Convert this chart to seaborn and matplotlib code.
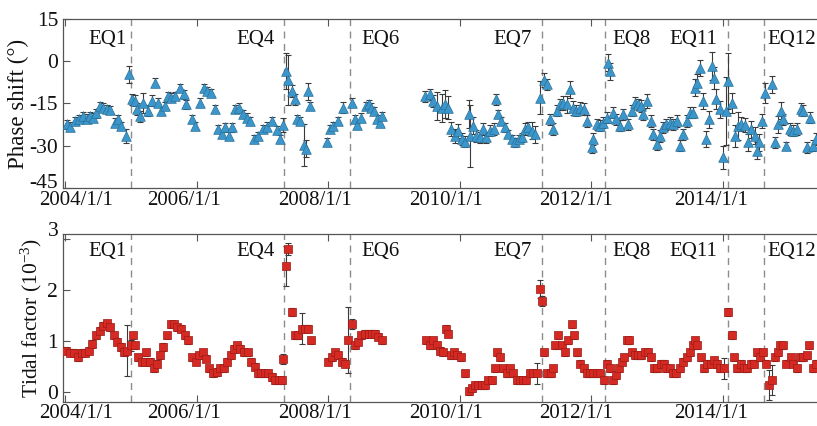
import numpy as np
import pandas as pd
import matplotlib
matplotlib.use('Agg')
import matplotlib.pyplot as plt
import matplotlib.transforms as mtransforms
import seaborn as sns

# phase shift (deg), decimal years
phase_year = [
    2004.02, 2004.07, 2004.14, 2004.20, 2004.27, 2004.32, 2004.37, 2004.42, 2004.47, 2004.52,
    2004.57, 2004.63, 2004.68, 2004.75, 2004.80, 2004.85, 2004.92, 2004.97, 2005.01, 2005.06,
    2005.08, 2005.13, 2005.18, 2005.26, 2005.31, 2005.36, 2005.40, 2005.46, 2005.51, 2005.56,
    2005.61, 2005.67, 2005.74, 2005.80, 2005.84, 2005.92, 2005.97, 2006.05, 2006.10, 2006.15,
    2006.21, 2006.27, 2006.32, 2006.38, 2006.43, 2006.48, 2006.53, 2006.58, 2006.64, 2006.70,
    2006.76, 2006.81, 2006.86, 2006.93, 2007.01, 2007.06, 2007.14, 2007.21, 2007.26, 2007.31,
    2007.35, 2007.39, 2007.44, 2007.49, 2007.52, 2007.57, 2007.62, 2007.66, 2007.69, 2007.72,
    2007.98, 2008.02, 2008.07, 2008.15, 2008.22, 2008.35, 2008.40, 2008.44, 2008.50, 2008.57,
    2008.61, 2008.64, 2008.69, 2008.74, 2008.78, 2008.81,
    2009.47, 2009.54, 2009.59, 2009.65, 2009.72, 2009.77, 2009.82, 2009.87, 2009.92, 2009.97,
    2010.03, 2010.08, 2010.13, 2010.15, 2010.20, 2010.25, 2010.30, 2010.35, 2010.40, 2010.46,
    2010.51, 2010.55, 2010.58, 2010.63, 2010.68, 2010.73, 2010.79, 2010.84, 2010.89, 2010.94,
    2010.99, 2011.04, 2011.09, 2011.14, 2011.21, 2011.28, 2011.32, 2011.37, 2011.42, 2011.47,
    2011.52, 2011.57, 2011.62, 2011.67, 2011.72, 2011.77, 2011.83, 2011.88, 2011.93, 2012.01,
    2012.03, 2012.08, 2012.13, 2012.18, 2012.23, 2012.25, 2012.28, 2012.33, 2012.38, 2012.43,
    2012.48, 2012.56, 2012.61, 2012.66, 2012.71, 2012.76, 2012.79, 2012.84, 2012.90, 2012.94,
    2012.99, 2013.04, 2013.09, 2013.14, 2013.19, 2013.24, 2013.30, 2013.34, 2013.39, 2013.45,
    2013.50, 2013.55, 2013.57, 2013.61, 2013.65, 2013.70, 2013.74, 2013.78, 2013.83, 2013.86,
    2013.90, 2013.95, 2014.00, 2014.04, 2014.08, 2014.13, 2014.18, 2014.23, 2014.28, 2014.33,
    2014.38, 2014.43, 2014.48, 2014.51, 2014.55, 2014.60, 2014.64, 2014.75, 2014.79, 2014.84,
    2014.88, 2014.92, 2014.96, 2015.02, 2015.07, 2015.13, 2015.18, 2015.21, 2015.27, 2015.32,
    2015.37, 2015.42]
phase_value = [
    -22.4, -23.2, -21.2, -20.6, -19.6, -20.4, -19.4, -20.0, -18.5, -15.9,
    -16.5, -17.0, -17.3, -21.8, -20.6, -23.0, -26.5, -4.7, -13.5, -14.0,
    -17.0, -19.6, -14.7, -17.6, -14.0, -7.6, -14.7, -17.6, -15.9, -12.4,
    -12.9, -12.4, -9.4, -11.8, -15.3, -20.6, -22.9, -14.7, -9.4, -10.6,
    -11.2, -17.0, -24.0, -25.9, -23.5, -26.5, -23.5, -17.0, -16.5, -18.8,
    -20.0, -21.2, -27.6, -26.5, -24.1, -23.2, -21.2, -24.4, -27.6, -22.7,
    -3.5, -6.7, -10.6, -13.5, -20.6, -21.2, -29.8, -31.0, -10.6, -15.9,
    -28.6, -24.1, -22.9, -21.2, -16.5, -14.7, -20.6, -22.7, -20.0, -15.9,
    -15.3, -16.5, -17.6, -20.6, -21.8, -19.4,
    -12.4, -11.8, -14.1, -15.9, -16.5, -15.3, -16.5, -24.1, -26.5, -24.7,
    -27.6, -28.6, -18.8, -26.5, -22.9, -26.5, -27.0, -24.1, -27.0, -24.7,
    -24.1, -13.5, -18.8, -21.2, -23.5, -25.9, -27.6, -28.8, -27.6, -27.0,
    -24.1, -23.5, -24.7, -25.9, -12.9, -6.5, -8.2, -20.6, -24.1, -17.6,
    -15.3, -14.7, -15.3, -10.0, -16.5, -17.6, -16.5, -17.0, -21.2, -30.6,
    -27.6, -22.4, -22.9, -21.8, -20.0, -0.5, -3.6, -18.2, -20.6, -22.9,
    -18.8, -22.4, -17.6, -14.7, -15.3, -15.9, -18.8, -14.1, -21.2, -25.9,
    -29.4, -26.5, -23.5, -22.4, -21.8, -22.4, -21.2, -30.0, -25.9, -21.2,
    -18.2, -18.2, -9.4, -7.6, -2.4, -14.1, -27.6, -20.6, -1.8, -5.9,
    -13.5, -17.0, -34.1, -17.6, -7.1, -14.7, -26.5, -22.9, -22.4, -22.7,
    -28.8, -24.1, -26.5, -31.8, -28.8, -21.2, -11.2, -8.2, -28.8, -22.4,
    -17.6, -20.6, -30.0, -24.1, -24.7, -24.1, -17.0, -17.6, -30.6, -20.0,
    -30.0, -27.6]
phase_err = [
    1.5, 1.5, 1.5, 1.5, 1.5, 1.5, 1.5, 1.5, 1.5, 1.5,
    1.5, 1.5, 1.5, 1.5, 1.5, 1.5, 2.5, 3.0, 2.0, 2.0,
    2.0, 2.0, 3.5, 2.0, 2.0, 1.5, 1.5, 1.5, 1.5, 1.5,
    1.5, 1.5, 1.5, 1.5, 1.5, 1.5, 1.5, 1.5, 1.5, 1.5,
    1.5, 1.5, 1.5, 1.5, 1.5, 1.5, 1.5, 1.5, 1.5, 1.5,
    1.5, 1.5, 1.5, 1.5, 1.5, 1.5, 1.5, 1.5, 1.5, 2.5,
    6.5, 9.0, 2.0, 2.0, 1.5, 1.5, 7.5, 3.0, 3.0, 1.5,
    1.5, 1.5, 1.5, 1.5, 2.0, 1.5, 1.5, 1.5, 1.5, 1.5,
    1.5, 1.5, 1.5, 1.5, 1.5, 1.5,
    2.0, 2.0, 2.0, 5.0, 5.0, 5.0, 4.0, 2.5, 2.5, 2.5,
    2.0, 2.0, 5.0, 11.0, 3.0, 2.0, 2.0, 2.0, 2.0, 2.0,
    2.0, 2.0, 1.5, 1.5, 1.5, 1.5, 1.5, 1.5, 1.5, 1.5,
    2.0, 2.0, 3.0, 3.0, 6.0, 2.5, 2.0, 2.0, 2.0, 2.0,
    2.0, 2.5, 3.0, 3.0, 2.5, 2.0, 2.0, 2.0, 2.0, 2.0,
    2.0, 2.0, 2.0, 2.0, 2.0, 3.0, 3.0, 2.0, 2.0, 2.0,
    2.0, 2.0, 2.0, 2.0, 2.0, 2.0, 2.0, 2.5, 2.0, 2.0,
    2.0, 2.0, 2.0, 2.0, 2.0, 2.0, 2.0, 2.0, 2.0, 2.0,
    2.0, 2.0, 3.0, 3.0, 3.0, 3.0, 3.0, 3.0, 5.0, 4.0,
    3.5, 3.0, 4.0, 12.0, 10.0, 3.5, 4.0, 5.0, 2.5, 2.5,
    3.0, 3.0, 3.0, 3.0, 3.0, 2.5, 3.5, 3.0, 2.0, 3.0,
    3.0, 2.0, 1.5, 2.0, 2.0, 2.0, 2.0, 2.0, 2.0, 2.0,
    2.0, 2.0]

# tidal factor (1e-3)
tidal_year = [
    2004.01, 2004.07, 2004.13, 2004.19, 2004.25, 2004.30, 2004.35, 2004.41, 2004.47, 2004.52,
    2004.57, 2004.63, 2004.68, 2004.74, 2004.79, 2004.84, 2004.89, 2004.94, 2004.99, 2005.02,
    2005.06, 2005.11, 2005.16, 2005.21, 2005.23, 2005.29, 2005.34, 2005.39, 2005.44, 2005.49,
    2005.54, 2005.60, 2005.65, 2005.70, 2005.75, 2005.82, 2005.87, 2005.93, 2005.98, 2006.03,
    2006.09, 2006.14, 2006.19, 2006.25, 2006.30, 2006.35, 2006.41, 2006.46, 2006.51, 2006.56,
    2006.61, 2006.66, 2006.71, 2006.77, 2006.82, 2006.88, 2006.93, 2006.98, 2007.03, 2007.08,
    2007.14, 2007.19, 2007.24, 2007.29, 2007.31, 2007.35, 2007.39, 2007.45, 2007.49, 2007.54,
    2007.59, 2007.64, 2007.69, 2007.73, 2008.00, 2008.05, 2008.10, 2008.15, 2008.20, 2008.25,
    2008.29, 2008.35, 2008.40, 2008.45, 2008.50, 2008.56, 2008.61, 2008.66, 2008.71, 2008.76,
    2008.81, 2009.49, 2009.54, 2009.59, 2009.65, 2009.70, 2009.74, 2009.78, 2009.82, 2009.86,
    2009.91, 2009.96, 2010.01, 2010.07, 2010.13, 2010.18, 2010.23, 2010.28, 2010.33, 2010.38,
    2010.43, 2010.48, 2010.53, 2010.57, 2010.61, 2010.66, 2010.71, 2010.76, 2010.81, 2010.86,
    2010.91, 2010.96, 2011.01, 2011.06, 2011.11, 2011.17, 2011.21, 2011.24, 2011.28, 2011.33,
    2011.38, 2011.42, 2011.44, 2011.49, 2011.55, 2011.60, 2011.65, 2011.70, 2011.73, 2011.78,
    2011.83, 2011.88, 2011.93, 2011.98, 2012.03, 2012.08, 2012.13, 2012.19, 2012.24, 2012.28,
    2012.33, 2012.38, 2012.42, 2012.46, 2012.49, 2012.54, 2012.57, 2012.62, 2012.66, 2012.71,
    2012.76, 2012.81, 2012.86, 2012.90, 2012.95, 2013.00, 2013.05, 2013.10, 2013.14, 2013.19,
    2013.24, 2013.29, 2013.34, 2013.39, 2013.45, 2013.50, 2013.54, 2013.57, 2013.61, 2013.66,
    2013.71, 2013.76, 2013.81, 2013.86, 2013.91, 2013.96, 2014.01, 2014.08, 2014.13, 2014.17,
    2014.22, 2014.27, 2014.32, 2014.37, 2014.42, 2014.47, 2014.52, 2014.57, 2014.61, 2014.66,
    2014.70, 2014.75, 2014.79, 2014.83, 2014.87, 2014.91, 2014.96, 2015.03, 2015.07, 2015.12,
    2015.17, 2015.22, 2015.27, 2015.31, 2015.37, 2015.41]
tidal_value = [
    0.81, 0.77, 0.77, 0.68, 0.77, 0.77, 0.81, 0.94, 1.11, 1.20,
    1.30, 1.35, 1.27, 1.11, 0.98, 0.88, 0.78, 0.81, 0.91, 1.11,
    0.91, 0.68, 0.59, 0.59, 0.78, 0.59, 0.46, 0.55, 0.72, 0.88,
    1.11, 1.33, 1.33, 1.27, 1.24, 1.11, 1.01, 0.68, 0.59, 0.72,
    0.78, 0.65, 0.46, 0.36, 0.39, 0.46, 0.46, 0.59, 0.72, 0.85,
    0.91, 0.85, 0.78, 0.78, 0.59, 0.49, 0.36, 0.36, 0.36, 0.36,
    0.29, 0.23, 0.23, 0.23, 0.65, 2.47, 2.80, 1.56, 1.11, 1.11,
    1.24, 1.24, 1.24, 1.01, 0.59, 0.68, 0.78, 0.72, 0.59, 0.55,
    1.01, 1.33, 0.91, 0.98, 1.11, 1.14, 1.14, 1.14, 1.14, 1.08,
    1.01, 1.01, 0.91, 1.01, 0.91, 0.81, 0.78, 1.24, 1.14, 0.72,
    0.78, 0.72, 0.68, 0.36, 0.01, 0.07, 0.13, 0.13, 0.13, 0.13,
    0.23, 0.23, 0.46, 0.78, 0.68, 0.46, 0.36, 0.46, 0.36, 0.23,
    0.23, 0.23, 0.23, 0.36, 0.36, 0.36, 2.02, 1.79, 0.78, 0.36,
    0.36, 0.46, 0.91, 1.11, 0.91, 0.78, 1.01, 1.33, 1.11, 0.78,
    0.55, 0.46, 0.36, 0.36, 0.36, 0.36, 0.36, 0.23, 0.55, 0.46,
    0.23, 0.33, 0.46, 0.59, 0.68, 1.01, 1.01, 0.78, 0.72, 0.72,
    0.72, 0.78, 0.78, 0.68, 0.46, 0.46, 0.55, 0.55, 0.46, 0.46,
    0.36, 0.36, 0.46, 0.59, 0.68, 0.78, 0.91, 1.01, 0.91, 0.68,
    0.46, 0.55, 0.55, 0.62, 0.55, 0.46, 0.46, 1.56, 1.11, 0.68,
    0.46, 0.55, 0.46, 0.46, 0.55, 0.55, 0.78, 0.68, 0.78, 0.55,
    0.13, 0.23, 0.68, 0.78, 0.91, 0.91, 0.55, 0.68, 0.55, 0.46,
    0.68, 0.68, 0.72, 0.91, 0.46, 0.55]
tidal_err = [
    0.07, 0.07, 0.07, 0.07, 0.07, 0.07, 0.07, 0.07, 0.07, 0.07,
    0.07, 0.07, 0.07, 0.07, 0.07, 0.07, 0.07, 0.50, 0.10, 0.07,
    0.07, 0.07, 0.07, 0.07, 0.07, 0.07, 0.07, 0.07, 0.07, 0.07,
    0.07, 0.07, 0.07, 0.07, 0.07, 0.07, 0.07, 0.07, 0.07, 0.07,
    0.07, 0.07, 0.07, 0.07, 0.07, 0.07, 0.07, 0.07, 0.07, 0.07,
    0.07, 0.07, 0.07, 0.07, 0.07, 0.07, 0.07, 0.07, 0.07, 0.07,
    0.07, 0.07, 0.07, 0.07, 0.10, 0.40, 0.12, 0.08, 0.07, 0.07,
    0.30, 0.07, 0.07, 0.07, 0.07, 0.07, 0.07, 0.07, 0.07, 0.07,
    0.65, 0.10, 0.07, 0.07, 0.07, 0.07, 0.07, 0.07, 0.07, 0.07,
    0.07, 0.07, 0.07, 0.07, 0.07, 0.07, 0.07, 0.07, 0.07, 0.07,
    0.07, 0.07, 0.07, 0.07, 0.07, 0.07, 0.07, 0.07, 0.07, 0.07,
    0.07, 0.07, 0.07, 0.07, 0.07, 0.07, 0.07, 0.07, 0.07, 0.07,
    0.07, 0.07, 0.07, 0.07, 0.07, 0.20, 0.18, 0.10, 0.07, 0.07,
    0.07, 0.07, 0.07, 0.07, 0.07, 0.07, 0.07, 0.07, 0.07, 0.07,
    0.07, 0.07, 0.07, 0.07, 0.07, 0.07, 0.07, 0.07, 0.07, 0.07,
    0.07, 0.07, 0.07, 0.07, 0.07, 0.07, 0.07, 0.07, 0.07, 0.07,
    0.07, 0.07, 0.07, 0.07, 0.07, 0.07, 0.07, 0.07, 0.07, 0.07,
    0.07, 0.07, 0.07, 0.07, 0.07, 0.07, 0.07, 0.07, 0.07, 0.07,
    0.07, 0.07, 0.07, 0.07, 0.07, 0.07, 0.20, 0.08, 0.08, 0.07,
    0.07, 0.07, 0.07, 0.07, 0.07, 0.07, 0.07, 0.07, 0.07, 0.07,
    0.30, 0.30, 0.07, 0.07, 0.07, 0.07, 0.07, 0.07, 0.07, 0.07,
    0.07, 0.07, 0.07, 0.07, 0.07, 0.07]

eq_names = ['EQ1', 'EQ4', 'EQ6', 'EQ7', 'EQ8', 'EQ11', 'EQ12']
eq_years = [2005.00, 2007.33, 2008.33, 2011.24, 2012.21, 2014.08, 2014.63]

tick_years = [2004, 2006, 2008, 2010, 2012, 2014]
tick_labels = ['2004/1/1', '2006/1/1', '2008/1/1', '2010/1/1', '2012/1/1', '2014/1/1']
phase_ticks = [15, 0, -15, -30, -45]
phase_ticklabels = ['15', '0', '-15', '-30', '-45']
tidal_ticks = [0, 1, 2, 3]
tidal_ticklabels = ['0', '1', '2', '3']

sns.set_theme(style='ticks')
plt.rcParams['font.family'] = ['Liberation Serif', 'DejaVu Serif']
plt.rcParams['mathtext.fontset'] = 'custom'
plt.rcParams['mathtext.rm'] = 'Liberation Serif'
plt.rcParams['mathtext.it'] = 'Liberation Serif:italic'

phase = pd.DataFrame({'year': phase_year, 'value': phase_value, 'err': phase_err})
tidal = pd.DataFrame({'year': tidal_year, 'value': tidal_value, 'err': tidal_err})

fig = plt.figure(figsize=(8.17, 4.26), dpi=100)
W, H = 817, 426
ax1 = fig.add_axes([63 / W, 1 - 188 / H, 791.5 / W, 169 / H])
ax2 = fig.add_axes([63 / W, 1 - 402 / H, 791.5 / W, 168 / H])

# label side/offset (px) for each EQ tag
eq_dx = [-5, -10, 11, -10, 7, -11, 3]


def shift(lab, dx, dy):
    lab.set_transform(lab.get_transform() + mtransforms.ScaledTranslation(dx / 100, dy / 100, fig.dpi_scale_trans))


def draw_panel(ax, df, marker, face, edge, size, text_dy, xpad):
    for name, yr, dx in zip(eq_names, eq_years, eq_dx):
        ax.axvline(yr, color='#8c8c8c', lw=1.0, ls=(0, (5, 4)), zorder=1)
        ax.annotate(name, xy=(yr, 1), xycoords=('data', 'axes fraction'),
                    xytext=(dx, text_dy), textcoords='offset pixels',
                    ha='right' if dx < 0 else 'left', va='top', fontsize=15, color='#111111')
    ax.errorbar(df['year'], df['value'], yerr=df['err'], fmt='none', ecolor='#3a3a3a',
                elinewidth=0.8, capsize=2.5, capthick=0.8, zorder=2)
    sns.scatterplot(data=df, x='year', y='value', marker=marker, color=face, edgecolor=edge,
                    linewidth=0.5, s=size, ax=ax, zorder=3, legend=False)
    ax.set_xlim(2003.962, 2016.0)
    ax.set_xticks(tick_years, tick_labels)
    ax.set_xlabel('')
    ax.tick_params(direction='in', length=5, width=0.8, color='#555555', top=True,
                   labelsize=15.5, labelcolor='#111111')
    ax.tick_params(axis='x', labelsize=15, pad=xpad)
    for sp in ax.spines.values():
        sp.set_color('#555555')
        sp.set_linewidth(0.9)
    # shift date labels like the original
    shifts = [11, -13, -13, -14, -15, -12]
    for lab, dx in zip(ax.get_xticklabels(), shifts):
        shift(lab, dx, 0)


draw_panel(ax1, phase, '^', '#3b97cb', '#2a6f98', 48, -11, 2.5)
ax1.set_ylim(-45, 15)
ax1.set_yticks(phase_ticks, phase_ticklabels)
ax1.set_ylabel('Phase shift (°)', fontsize=16.5, labelpad=0, color='#111111')
shift(ax1.get_yticklabels()[4], 0, 7)

draw_panel(ax2, tidal, 's', '#d42a23', '#9c1b16', 26, -8, 1.5)
ax2.set_ylim(-0.2, 3.1)
ax2.set_yticks(tidal_ticks, tidal_ticklabels)
ax2.set_ylabel(r'Tidal factor (10$^{-3}$)', fontsize=15.5, labelpad=2, color='#111111')
shift(ax2.get_yticklabels()[3], 0, 10)

fig.savefig('out.png', dpi=100)
